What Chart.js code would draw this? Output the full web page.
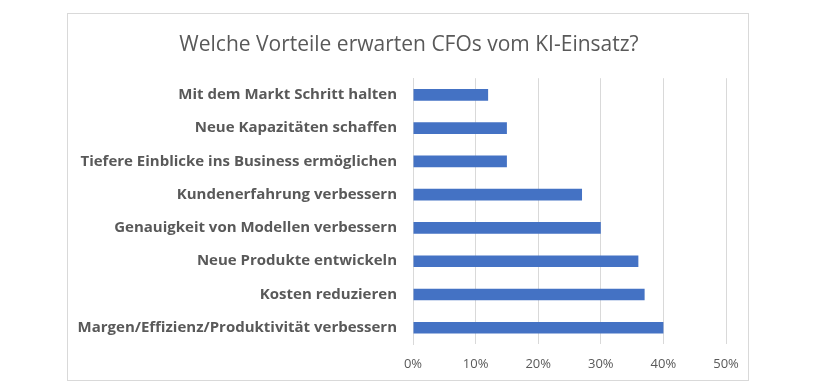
<!DOCTYPE html>
<html>
<head>
<meta charset="utf-8">
<script src="https://cdn.jsdelivr.net/npm/chart.js@4/dist/chart.umd.min.js"></script>
<style>
  html, body { margin: 0; padding: 0; background: #ffffff; }
  #wrap { width: 820px; height: 390px; position: relative; }
</style>
</head>
<body>
<div id="wrap"><canvas id="c" width="820" height="390"></canvas></div>
<script>
const titleText = "Welche Vorteile erwarten CFOs vom KI-Einsatz?";
const categories = [
  "Mit dem Markt Schritt halten",
  "Neue Kapazitäten schaffen",
  "Tiefere Einblicke ins Business ermöglichen",
  "Kundenerfahrung verbessern",
  "Genauigkeit von Modellen verbessern",
  "Neue Produkte entwickeln",
  "Kosten reduzieren",
  "Margen/Effizienz/Produktivität verbessern"
];
const values = [12, 15, 15, 27, 30, 36, 37, 40];
const axisMin = 0;
const axisMax = 50;
const axisStep = 10;

const frame = {
  id: 'frame',
  beforeDraw(chart) {
    const ctx = chart.ctx;
    ctx.save();
    ctx.fillStyle = '#ffffff';
    ctx.fillRect(0, 0, chart.width, chart.height);
    ctx.strokeStyle = '#d9d9d9';
    ctx.lineWidth = 1;
    ctx.strokeRect(67.5, 13.5, 681, 367);
    ctx.restore();
  }
};

new Chart(document.getElementById('c'), {
  type: 'bar',
  data: {
    labels: categories,
    datasets: [{
      data: values,
      backgroundColor: '#4472C4',
      borderWidth: 0,
      barPercentage: 0.7,
      categoryPercentage: 0.5
    }]
  },
  options: {
    indexAxis: 'y',
    responsive: false,
    animation: false,
    devicePixelRatio: 1,
    layout: { padding: { left: 70, right: 72, top: 20, bottom: 6 } },
    plugins: {
      legend: { display: false },
      tooltip: { enabled: false },
      title: {
        display: true,
        text: titleText,
        color: '#595959',
        font: { family: 'Open Sans', size: 21, weight: 'normal' },
        padding: { top: 12, bottom: 21 }
      }
    },
    scales: {
      x: {
        min: axisMin,
        max: axisMax,
        grid: { color: '#d9d9d9', lineWidth: 1, drawTicks: false },
        border: { display: false },
        afterFit(scale) { scale.paddingRight = 94; },
        ticks: {
          stepSize: axisStep,
          padding: 12,
          color: '#595959',
          font: { family: 'Open Sans', size: 13 },
          callback: v => v + '%'
        }
      },
      y: {
        grid: { display: false, drawTicks: false },
        border: { display: true, color: '#d9d9d9' },
        afterFit(scale) { scale.width = 343; },
        ticks: {
          padding: 16,
          color: '#595959',
          font: { family: 'Open Sans', size: 15, weight: 'bold' }
        }
      }
    }
  },
  plugins: [frame]
});
</script>
</body>
</html>
